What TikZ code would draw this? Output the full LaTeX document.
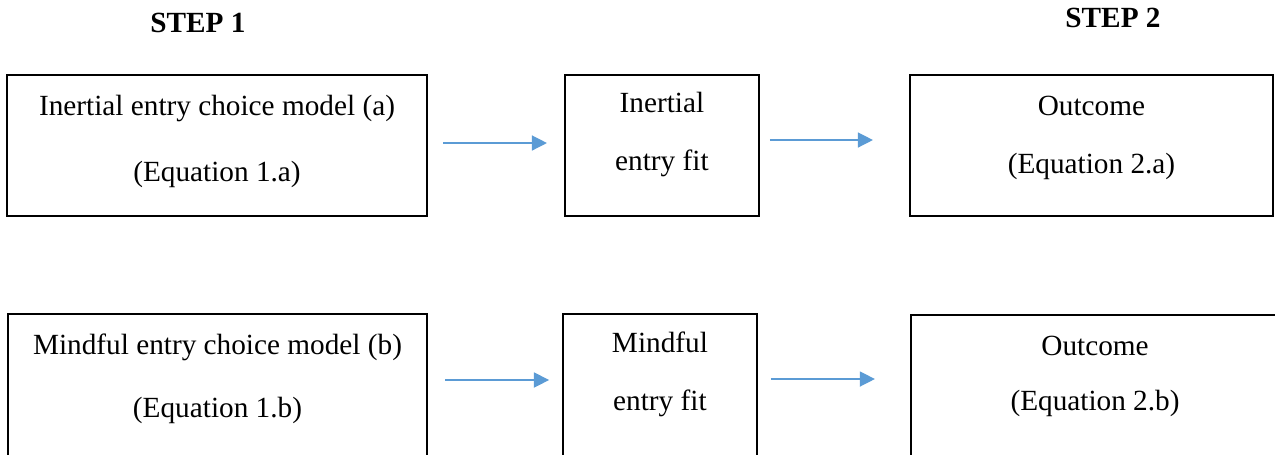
\documentclass[tikz,border=0pt]{standalone}
\usepackage{fontspec}
\setmainfont{Liberation Serif}
\usetikzlibrary{arrows.meta}
\definecolor{flowblue}{HTML}{5B9BD5}

\begin{document}
\begin{tikzpicture}[x=0.41pt,y=-0.41pt,
	stepbox/.style={draw, line width=0.8pt, anchor=north west, outer sep=0pt,
		inner xsep=0pt, inner ysep=0pt, align=center,
		font=\fontsize{12}{14.5}\selectfont, minimum height=57.8pt},
	cutbox/.style={stepbox, minimum height=65.6pt},
	steplabel/.style={anchor=base, font=\fontsize{12}{14.5}\selectfont\bfseries},
	flow/.style={-{Triangle[length=6.2pt,width=6.2pt]}, draw=flowblue, line width=0.55pt}]
	\useasboundingbox (0,0) rectangle (1275,454);
	\clip (0,0) rectangle (1275,454);

	\node[steplabel] (stepOne) at (198,32) {STEP 1};
	\node[steplabel] (stepTwo) at (1113,27) {STEP 2};

	% inertial row
	\node[stepbox, minimum width=172.2pt, text height=43.5pt, text depth=14.3pt] (inertModel) at (7,75)
		{Inertial entry choice model (a)\\[12.2pt](Equation 1.a)};
	\node[stepbox, minimum width=79.5pt, text height=39pt, text depth=18.8pt] (inertFit) at (565,75)
		{Inertial\\[9pt]entry fit};
	\node[stepbox, minimum width=148.8pt, text height=40.2pt, text depth=17.6pt] (inertOut) at (910,75)
		{Outcome\\[9.3pt](Equation 2.a)};

	% mindful row, boxes run past the bottom edge
	\node[cutbox, minimum width=171.8pt, text height=42.6pt, text depth=23pt] (mindModel) at (8,314)
		{Mindful entry choice model (b)\\[11.5pt](Equation 1.b)};
	\node[cutbox, minimum width=79.5pt, text height=39.4pt, text depth=26.2pt] (mindFit) at (563,314)
		{Mindful\\[9.3pt]entry fit};
	\node[cutbox, minimum width=150.9pt, text height=39pt, text depth=26.6pt] (mindOut) at (911,315)
		{Outcome\\[8pt](Equation 2.b)};

	\draw[flow, shorten <=6.6pt, shorten >=7.4pt] (inertModel.east |- 0,143) -- (inertFit.west |- 0,143);
	\draw[flow, shorten <=4.5pt, shorten >=15.2pt] (inertFit.east |- 0,140) -- (inertOut.west |- 0,140);
	\draw[flow, shorten <=7.4pt, shorten >=5.7pt] (mindModel.east |- 0,380) -- (mindFit.west |- 0,380);
	\draw[flow, shorten <=5.7pt, shorten >=14.8pt] (mindFit.east |- 0,379) -- (mindOut.west |- 0,379);
\end{tikzpicture}
\end{document}
